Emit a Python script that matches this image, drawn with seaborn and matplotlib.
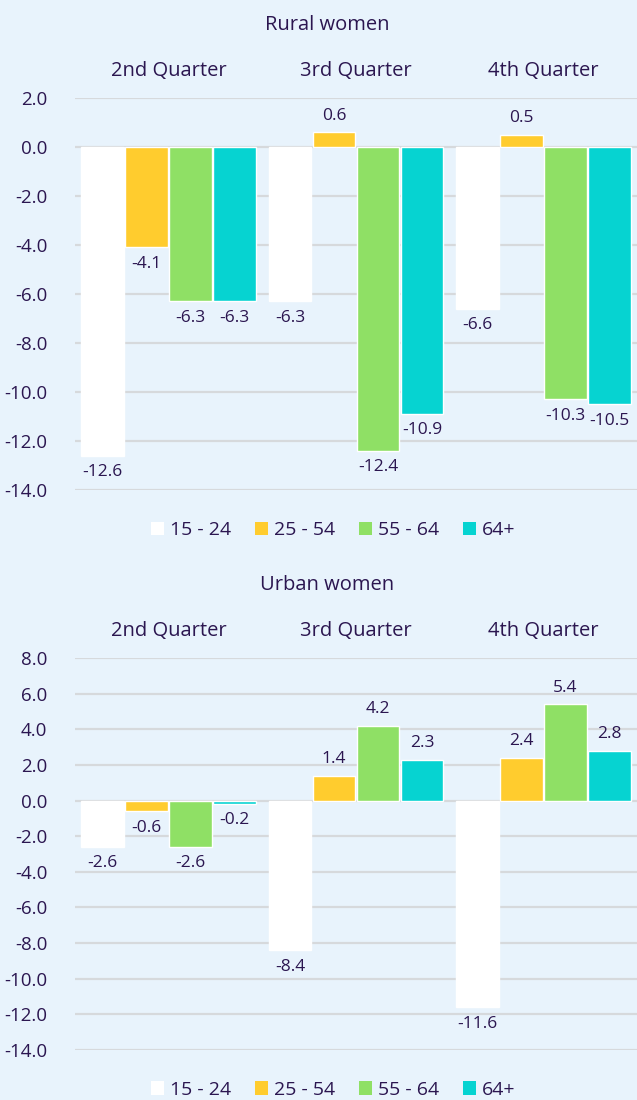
import numpy as np
import pandas as pd
import matplotlib
matplotlib.use("Agg")
import matplotlib.pyplot as plt
import seaborn as sns
from matplotlib.patches import Patch

quarters = ["2nd Quarter", "3rd Quarter", "4th Quarter"]
age_groups = ["15 - 24", "25 - 54", "55 - 64", "64+"]

rural_15_24 = [-12.6, -6.3, -6.6]
rural_25_54 = [-4.1, 0.6, 0.5]
rural_55_64 = [-6.3, -12.4, -10.3]
rural_64p = [-6.3, -10.9, -10.5]

urban_15_24 = [-2.6, -8.4, -11.6]
urban_25_54 = [-0.6, 1.4, 2.4]
urban_55_64 = [-2.6, 4.2, 5.4]
urban_64p = [-0.2, 2.3, 2.8]

rural_ticks = [2, 0, -2, -4, -6, -8, -10, -12, -14]
urban_ticks = [8, 6, 4, 2, 0, -2, -4, -6, -8, -10, -12, -14]

colors = ["#FFFFFF", "#FFCC2E", "#8FE065", "#06D3D1"]
bg = "#E8F3FC"
txt = "#2B1650"
grid = "#D6D9DC"


def long_df(series):
    rows = []
    for age, vals in zip(age_groups, series):
        for q, v in zip(quarters, vals):
            rows.append({"quarter": q, "age": age, "value": v})
    return pd.DataFrame(rows)


rural = long_df([rural_15_24, rural_25_54, rural_55_64, rural_64p])
urban = long_df([urban_15_24, urban_25_54, urban_55_64, urban_64p])

sns.set_style("white")
plt.rcParams["font.family"] = ["Open Sans", "DejaVu Sans"]

fig = plt.figure(figsize=(6.37, 11), dpi=100, facecolor=bg)
ax1 = fig.add_axes([0.118, 0.5545, 0.882, 0.3564])
ax2 = fig.add_axes([0.118, 0.04545, 0.882, 0.3564])


def draw(ax, df, ticks, title, title_y, leg_y):
    ax.set_facecolor(bg)
    sns.barplot(data=df, x="quarter", y="value", hue="age", order=quarters,
                hue_order=age_groups, palette=colors, width=0.94, gap=0.03,
                ax=ax, legend=False, saturation=1)
    ax.set_ylim(min(ticks), max(ticks))
    ax.set_yticks(ticks)
    ax.set_yticklabels([f"{t:.1f}" for t in ticks])
    ax.set_axisbelow(True)
    ax.yaxis.grid(True, color=grid, linewidth=1.6)
    for s in ax.spines.values():
        s.set_visible(False)
    ax.xaxis.tick_top()
    ax.tick_params(axis="x", length=0, pad=12, labelsize=14.5, colors=txt)
    ax.tick_params(axis="y", length=0, pad=20, labelsize=13.5, colors=txt)
    ax.set_xlabel("")
    ax.set_ylabel("")
    for c in ax.containers:
        ax.bar_label(c, fmt="%.1f", padding=6, fontsize=12.5, color=txt)
    fig.text(0.514, title_y, title, ha="center", va="center", fontsize=14.5, color=txt)
    handles = [Patch(facecolor=col, edgecolor="none") for col in colors]
    fig.legend(handles, age_groups, loc="center", bbox_to_anchor=(0.523, leg_y),
               ncol=4, frameon=False, fontsize=14, labelcolor=txt,
               handlelength=0.7, handleheight=0.7, handletextpad=0.3,
               columnspacing=1.2)


draw(ax1, rural, rural_ticks, "Rural women", 0.977, 0.518)
draw(ax2, urban, urban_ticks, "Urban women", 0.468, 0.009)

fig.savefig("out.png", dpi=100, facecolor=bg)
